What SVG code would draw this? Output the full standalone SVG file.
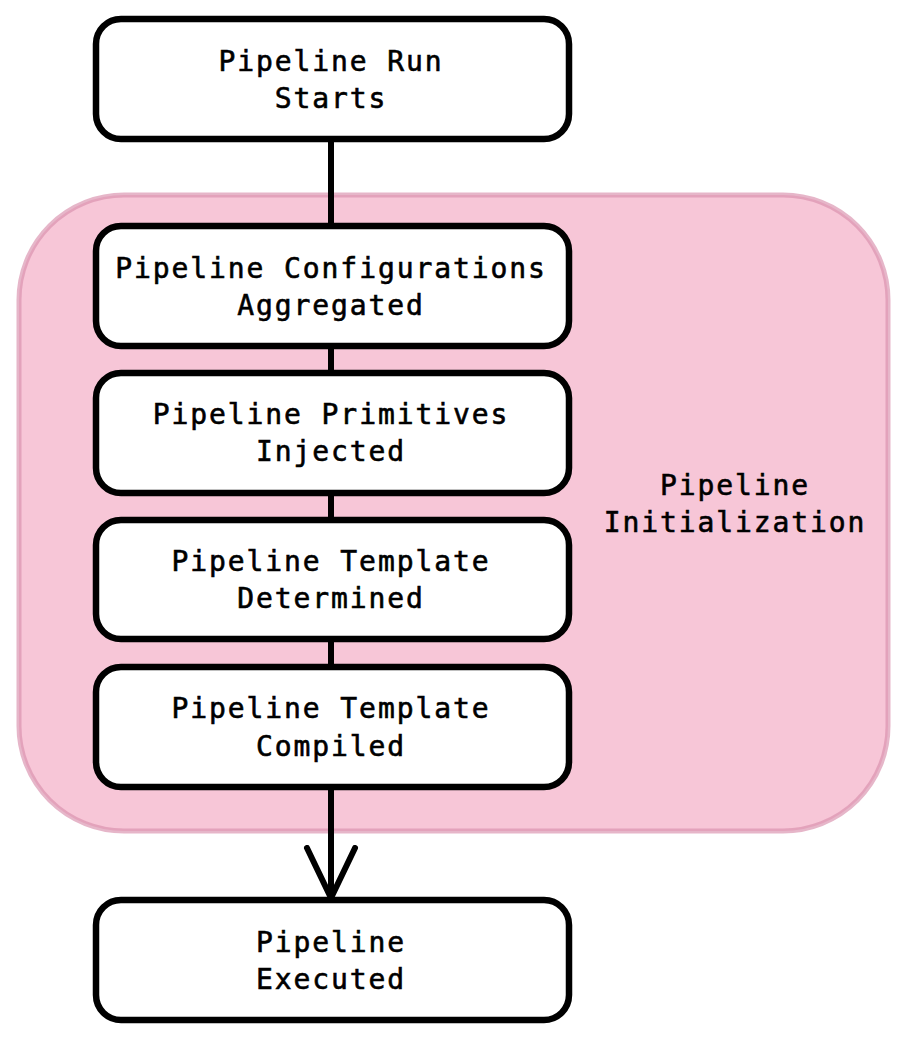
<svg xmlns="http://www.w3.org/2000/svg" width="907" height="1040" viewBox="0 0 907 1040">
<style>
.node rect{fill:#ffffff;stroke:#000000;stroke-width:6.5}
text{font-family:"DejaVu Sans Mono","Liberation Mono",monospace;font-size:28px;letter-spacing:1.9px;fill:#000000;stroke:#000000;stroke-width:0.6px;text-anchor:middle;dominant-baseline:central}
.edge{stroke:#000000;stroke-width:6;fill:none}
</style>
<defs>
<marker id="arr" markerWidth="60" markerHeight="56" refX="53" refY="27" orient="auto" markerUnits="userSpaceOnUse" viewBox="0 0 60 54">
<path d="M3,3 L53,27 L3,51" fill="none" stroke="#000" stroke-width="6" stroke-linecap="round" stroke-linejoin="round"/>
</marker>
</defs>
<g id="cluster">
<rect x="19" y="195" width="869" height="636" rx="105" ry="105" fill="#f7c6d7" stroke="#d98fac" stroke-opacity="0.65" stroke-width="5"/>
<text x="735" y="485">Pipeline</text>
<text x="735" y="522">Initialization</text>
</g>
<g id="edges">
<line class="edge" x1="331" y1="139" x2="331" y2="226"/>
<line class="edge" x1="331" y1="346" x2="331" y2="373"/>
<line class="edge" x1="331" y1="493" x2="331" y2="520"/>
<line class="edge" x1="331" y1="639" x2="331" y2="667"/>
<line class="edge" x1="331" y1="787" x2="331" y2="898" marker-end="url(#arr)"/>
</g>
<g id="n1" class="node"><rect x="96" y="19" width="473" height="120" rx="25"/><text x="331" y="61">Pipeline Run</text><text x="331" y="98">Starts</text></g>
<g id="n2" class="node"><rect x="96" y="226" width="473" height="120" rx="25"/><text x="331" y="268">Pipeline Configurations</text><text x="331" y="305">Aggregated</text></g>
<g id="n3" class="node"><rect x="96" y="373" width="473" height="120" rx="25"/><text x="331" y="414">Pipeline Primitives</text><text x="331" y="451">Injected</text></g>
<g id="n4" class="node"><rect x="96" y="520" width="473" height="119" rx="25"/><text x="331" y="561">Pipeline Template</text><text x="331" y="598">Determined</text></g>
<g id="n5" class="node"><rect x="96" y="667" width="473" height="120" rx="25"/><text x="331" y="708">Pipeline Template</text><text x="331" y="746">Compiled</text></g>
<g id="n6" class="node"><rect x="96" y="900" width="473" height="120" rx="25"/><text x="331" y="942">Pipeline</text><text x="331" y="979">Executed</text></g>
</svg>
